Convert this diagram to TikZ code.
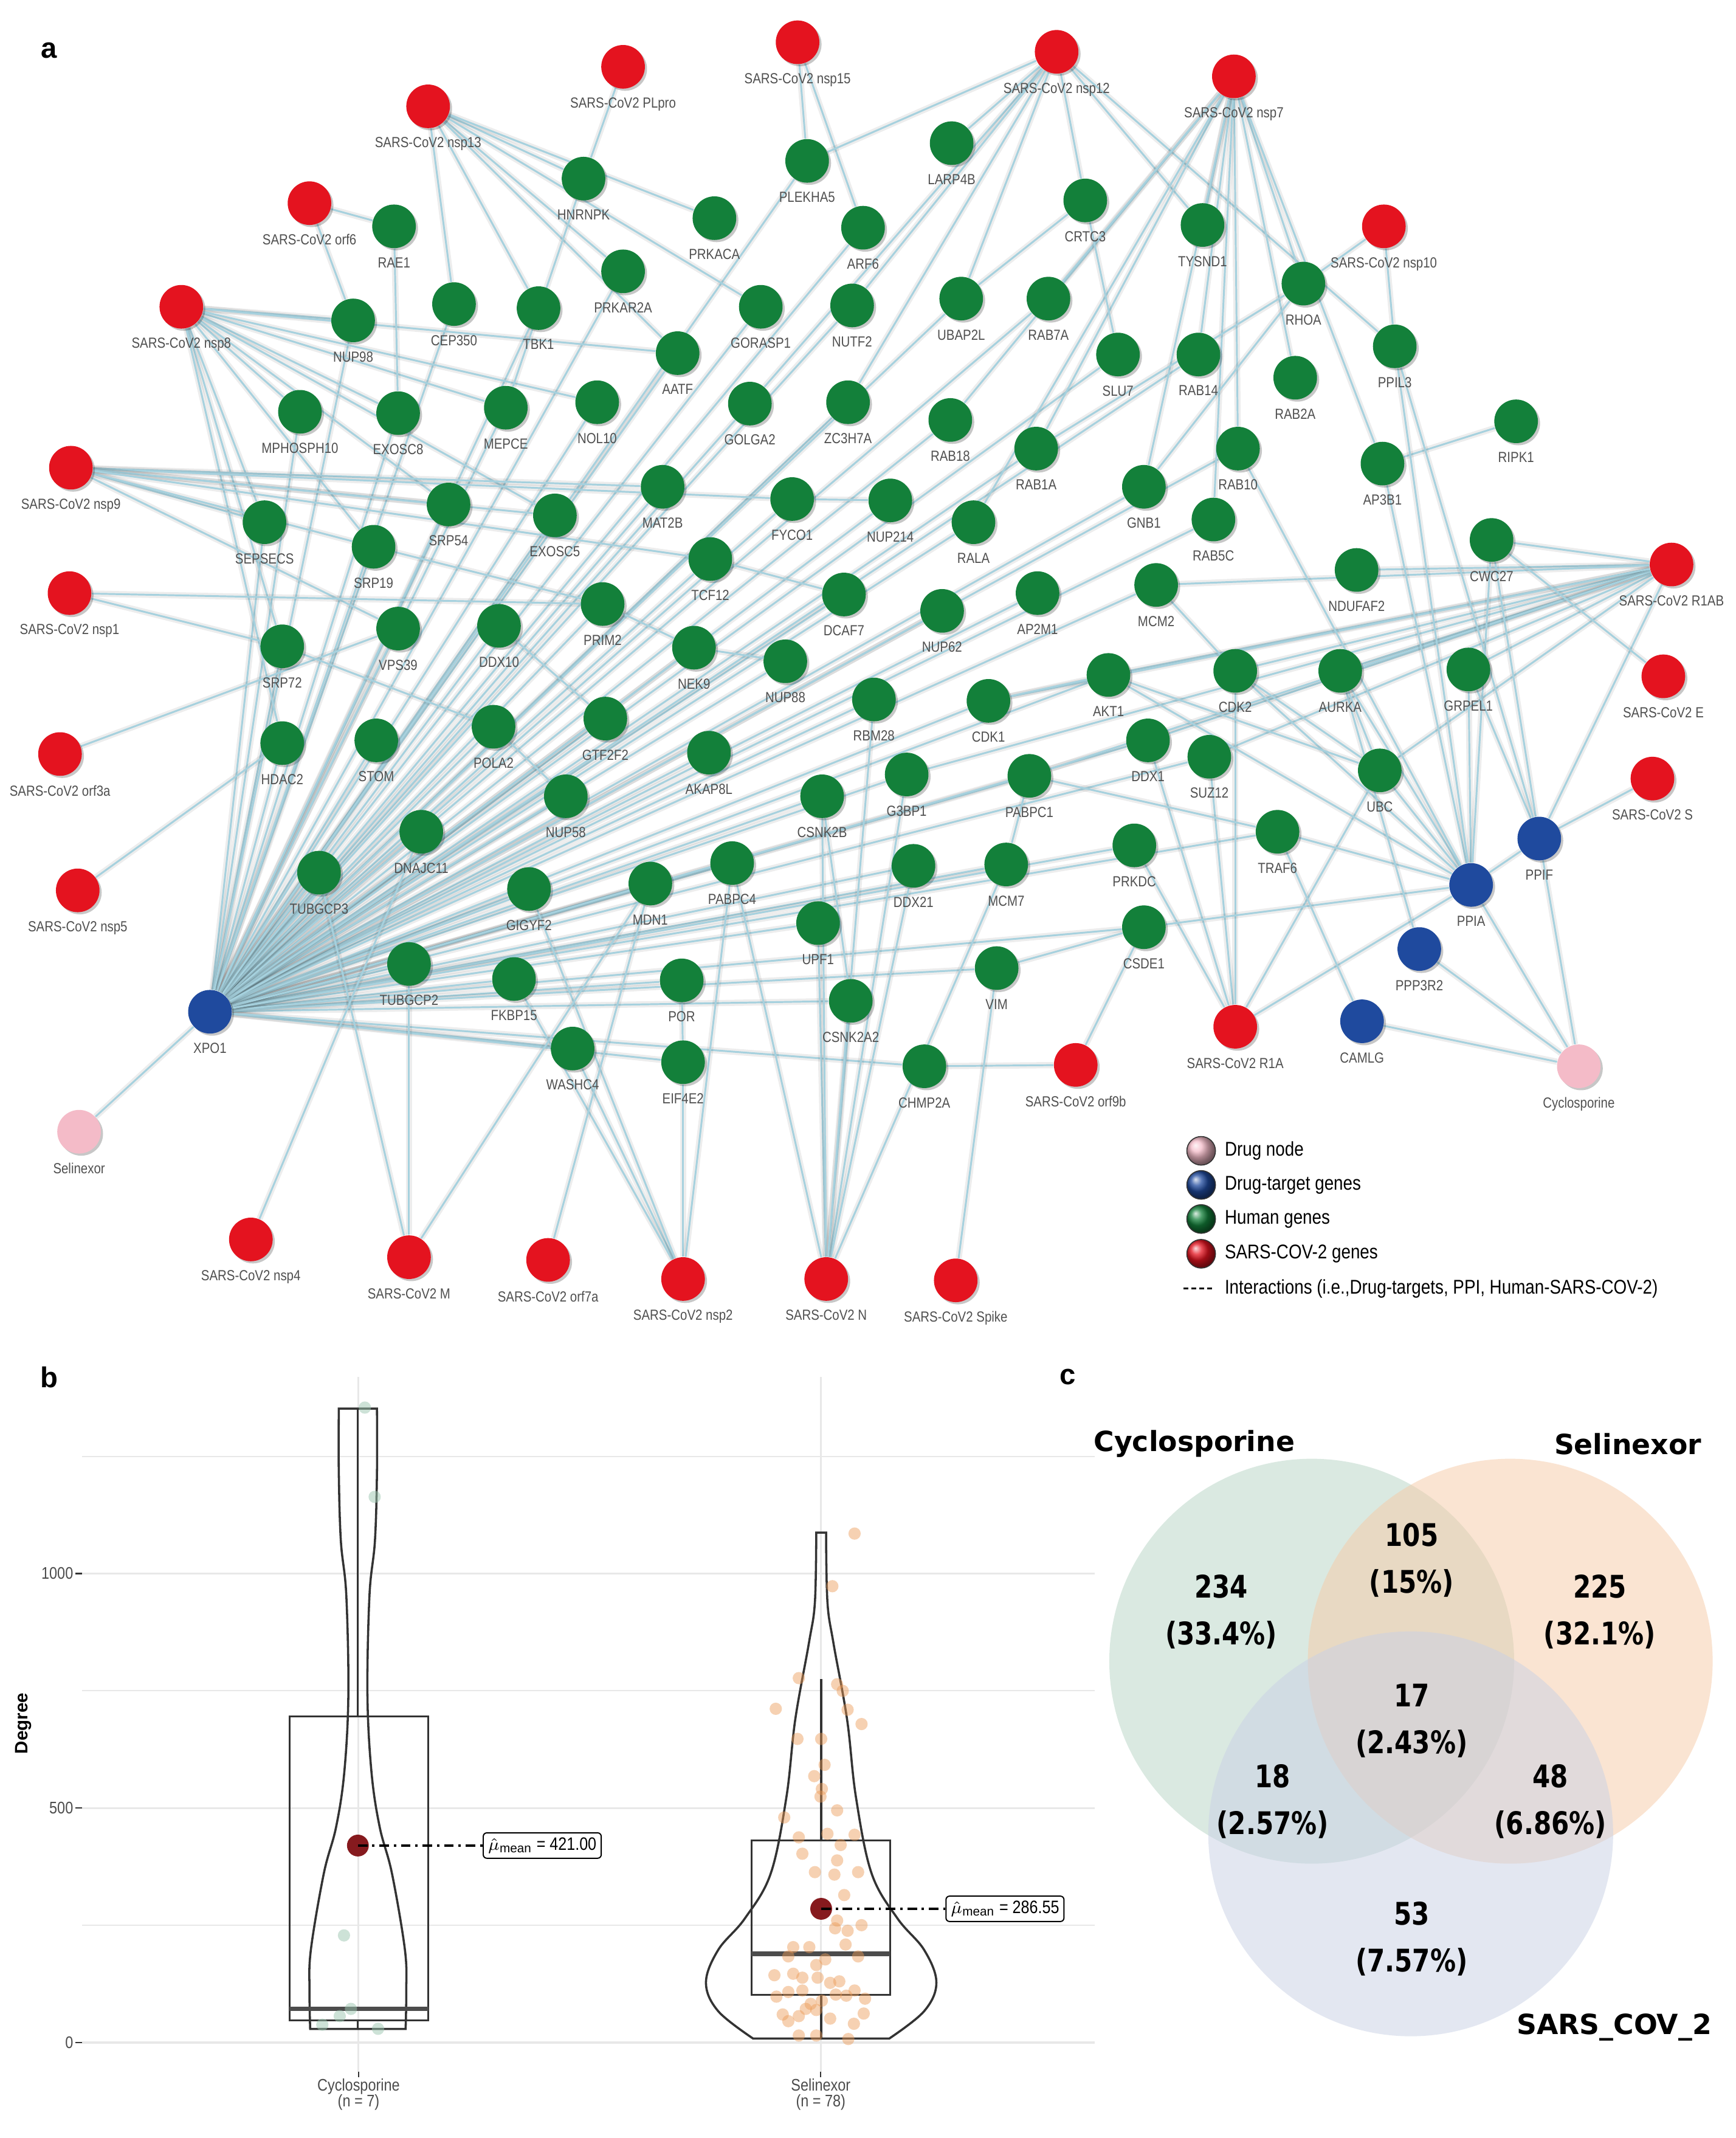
\documentclass[tikz,border=0pt]{standalone}
\usepackage{fontspec}
\setmainfont{Liberation Sans}
\newfontfamily\narrowfont[FakeStretch=0.85]{Liberation Sans}
\newfontfamily\vennfont{DejaVu Sans}
\newfontfamily\vennnumfont[FakeStretch=0.82]{DejaVu Sans}
\usetikzlibrary{backgrounds,shadows}

\definecolor{sarsred}{HTML}{E4131F}
\definecolor{humangreen}{HTML}{13803A}
\definecolor{targetblue}{HTML}{1F4A9E}
\definecolor{drugpink}{HTML}{F4BBC8}
\definecolor{edgeblue}{HTML}{A6D1DE}
\definecolor{labelgray}{HTML}{505050}
\definecolor{meanred}{HTML}{861A1E}
\definecolor{jitorange}{HTML}{EC9A55}
\definecolor{jitgreen}{HTML}{9CC7B0}
\definecolor{cyclofill}{HTML}{B7D5C5}
\definecolor{selifill}{HTML}{F7CBA7}
\definecolor{sarsfill}{HTML}{C9D1E5}

\tikzset{
  gene/.style={circle, minimum size=0.64cm, inner sep=0pt,
    drop shadow={shadow xshift=0.9pt, shadow yshift=-0.9pt, fill=black, opacity=0.22}},
  sars/.style={gene, fill=sarsred},
  human/.style={gene, fill=humangreen},
  target/.style={gene, fill=targetblue},
  drug/.style={gene, fill=drugpink},
  edge/.style={draw=edgeblue, line width=0.75pt,
    preaction={draw=black, opacity=0.07, line width=2.6pt}},
  legendball/.style={circle, minimum size=0.42cm, inner sep=0pt, draw=black!80, line width=0.4pt},
  legendtext/.style={anchor=west, inner sep=0pt, font=\narrowfont\fontsize{8.3}{9}\selectfont},
  panel/.style={font=\bfseries\fontsize{12}{14}\selectfont, inner sep=0pt},
  gridmajor/.style={draw=black!9, line width=0.8pt},
  gridminor/.style={draw=black!9, line width=0.5pt},
  axistick/.style={draw=black!80, line width=0.6pt},
  ticklabel/.style={anchor=east, inner sep=0pt, text=black!70, font=\narrowfont\fontsize{7}{8}\selectfont},
  violin/.style={draw=black!80, line width=0.9pt},
  boxplot/.style={draw=black!80, line width=0.8pt},
  median/.style={draw=black!70, line width=1.8pt},
  meanline/.style={draw=black, line width=0.9pt, dash pattern=on 4pt off 2pt on 1pt off 2pt},
  meanbox/.style={draw=black, rounded corners=1.5pt, line width=0.5pt, anchor=west, inner sep=2pt,
    font=\narrowfont\fontsize{7.5}{8}\selectfont},
  vennnum/.style={align=center, font=\vennnumfont\bfseries\fontsize{13}{19.6}\selectfont},
  venntitle/.style={font=\vennfont\bfseries\fontsize{11.6}{13}\selectfont, inner sep=0pt},
}

\begin{document}
\begin{tikzpicture}[x=0.02cm, y=-0.02cm,
  every label/.style={font=\narrowfont\fontsize{6.1}{7}\selectfont, text=labelgray,
    inner sep=0.5pt, yshift=-3pt}]
\useasboundingbox (0,0) rectangle (1273,1568);

% ---------------- a: network
\node[panel] (pa) at (36,37) {a};

% SARS-CoV-2 proteins
\node[sars,label=below:SARS-CoV2 nsp15] (nsp15) at (585,31) {};
\node[sars,label=below:SARS-CoV2 PLpro] (PLpro) at (457,49) {};
\node[sars,label=below:SARS-CoV2 nsp13] (nsp13) at (314,78) {};
\node[sars,label=below:SARS-CoV2 nsp12] (nsp12) at (775,38) {};
\node[sars,label=below:SARS-CoV2 nsp7] (nsp7) at (905,56) {};
\node[sars,label=below:SARS-CoV2 orf6] (orf6) at (227,149) {};
\node[sars,label=below:SARS-CoV2 nsp10] (nsp10) at (1015,166) {};
\node[sars,label=below:SARS-CoV2 nsp8] (nsp8) at (133,225) {};
\node[sars,label=below:SARS-CoV2 nsp9] (nsp9) at (52,343) {};
\node[sars,label=below:SARS-CoV2 nsp1] (nsp1) at (51,435) {};
\node[sars,label=below:SARS-CoV2 orf3a] (orf3a) at (44,553) {};
\node[sars,label=below:SARS-CoV2 nsp5] (nsp5) at (57,653) {};
\node[sars,label=below:SARS-CoV2 R1AB] (R1AB) at (1226,414) {};
\node[sars,label=below:SARS-CoV2 E] (E) at (1220,496) {};
\node[sars,label=below:SARS-CoV2 S] (S) at (1212,571) {};
\node[sars,label=below:SARS-CoV2 nsp4] (nsp4) at (184,909) {};
\node[sars,label=below:SARS-CoV2 M] (M) at (300,922) {};
\node[sars,label=below:SARS-CoV2 orf7a] (orf7a) at (402,924) {};
\node[sars,label=below:SARS-CoV2 nsp2] (nsp2) at (501,938) {};
\node[sars,label=below:SARS-CoV2 N] (N) at (606,938) {};
\node[sars,label=below:SARS-CoV2 Spike] (Spike) at (701,939) {};
\node[sars,label=below:SARS-CoV2 orf9b] (orf9b) at (789,781) {};
\node[sars,label=below:SARS-CoV2 R1A] (R1A) at (906,753) {};

% drugs and their targets
\node[drug,label=below:Selinexor] (Selinexor) at (58,830) {};
\node[drug,label=below:Cyclosporine] (Cyclosporine) at (1158,782) {};
\node[target,label=below:XPO1] (XPO1) at (154,742) {};
\node[target,label=below:PPIA] (PPIA) at (1079,649) {};
\node[target,label=below:PPIF] (PPIF) at (1129,615) {};
\node[target,label=below:PPP3R2] (PPP3R2) at (1041,696) {};
\node[target,label=below:CAMLG] (CAMLG) at (999,749) {};

% human genes
\foreach \g/\x/\y in {RAE1/289/166, HNRNPK/428/131, PRKACA/524/160, PLEKHA5/592/118,
  LARP4B/698/105, ARF6/633/167, CRTC3/796/147, TYSND1/882/165, RHOA/956/208,
  PPIL3/1023/254, RIPK1/1112/309, CEP350/333/223, TBK1/395/226, NUP98/259/235,
  PRKAR2A/457/199, GORASP1/558/225, NUTF2/625/224, UBAP2L/705/219, RAB7A/769/219,
  AATF/497/259, SLU7/820/260, RAB14/879/260, RAB2A/950/277, MPHOSPH10/220/302,
  EXOSC8/292/303, MEPCE/371/299, NOL10/438/295, GOLGA2/550/296, ZC3H7A/622/295,
  RAB18/697/308, RAB1A/760/329, RAB10/908/329, AP3B1/1014/340, GNB1/839/357,
  RAB5C/890/381, MAT2B/486/357, FYCO1/581/366, NUP214/653/367, RALA/714/383,
  SRP54/329/370, EXOSC5/407/378, SEPSECS/194/383, SRP19/274/401, TCF12/521/410,
  CWC27/1094/396, NDUFAF2/995/418, MCM2/848/429, AP2M1/761/435, DCAF7/619/436,
  NUP62/691/448, PRIM2/442/443, DDX10/366/459, VPS39/292/461, SRP72/207/474,
  NEK9/509/475, NUP88/576/485, AKT1/813/495, CDK2/906/492, AURKA/983/492,
  GRPEL1/1077/491, RBM28/641/513, CDK1/725/514, POLA2/362/533, GTF2F2/444/527,
  HDAC2/207/545, STOM/276/543, AKAP8L/520/552, DDX1/842/543, SUZ12/887/555,
  UBC/1012/565, NUP58/415/584, CSNK2B/603/584, G3BP1/665/568, PABPC1/755/569,
  DNAJC11/309/610, TRAF6/937/610, PRKDC/832/620, TUBGCP3/234/640, GIGYF2/388/652,
  MDN1/477/648, PABPC4/537/633, DDX21/670/635, MCM7/738/634, UPF1/600/677,
  CSDE1/839/680, TUBGCP2/300/707, FKBP15/377/718, POR/500/719, VIM/731/710,
  CSNK2A2/624/734, WASHC4/420/769, EIF4E2/501/779, CHMP2A/678/782}
  \node[human,label=below:\g] (\g) at (\x,\y) {};

\begin{scope}[on background layer]
\fill[white] (0,0) rectangle (1273,1568);
% XPO1 fan
\foreach \g in {SEPSECS, SRP72, HDAC2, STOM, TUBGCP3, DNAJC11, TUBGCP2, GIGYF2, MDN1,
  PABPC4, FKBP15, POR, WASHC4, EIF4E2, UPF1, CSNK2A2, CHMP2A, VIM, CSDE1, DDX21, MCM7,
  PRKDC, G3BP1, PABPC1, CSNK2B, NUP58, POLA2, AKAP8L, GTF2F2, DDX10, VPS39, PRIM2, NEK9,
  NUP88, RBM28, CDK1, AKT1, DDX1, SUZ12, TRAF6, NUP62, DCAF7, TCF12, AP2M1, MCM2, RALA,
  NUP214, FYCO1, MAT2B, SRP54, SRP19, EXOSC5, EXOSC8, MPHOSPH10, MEPCE, NOL10, GOLGA2,
  ZC3H7A, RAB18, RAB1A, GNB1, RAB5C, AATF, NUTF2, GORASP1, UBAP2L, RAB7A, PRKAR2A, TBK1,
  CEP350, NUP98, ARF6, PLEKHA5, SLU7, RAB14, RAB10}
  \draw[edge] (XPO1) -- (\g);
% other interactions
\foreach \a/\b in {nsp13/HNRNPK, nsp13/PRKACA, nsp13/CEP350, nsp13/TBK1, nsp13/PRKAR2A,
  nsp13/GORASP1, nsp13/AATF, PLpro/HNRNPK, nsp15/PLEKHA5, nsp15/ARF6, orf6/RAE1, orf6/NUP98,
  nsp12/PLEKHA5, nsp12/LARP4B, nsp12/UBAP2L, nsp12/CRTC3, nsp12/ZC3H7A, nsp12/GOLGA2,
  nsp12/TYSND1, nsp12/PPIL3, nsp12/NUTF2,
  nsp7/TYSND1, nsp7/RAB14, nsp7/RAB2A, nsp7/RAB10, nsp7/RHOA, nsp7/GNB1, nsp7/RAB5C,
  nsp7/RAB1A, nsp7/RAB18, nsp7/RAB7A, nsp7/AP3B1, nsp7/RALA,
  nsp10/RHOA, nsp10/PPIL3, CRTC3/SLU7, CRTC3/UBAP2L, RHOA/GNB1, RHOA/RAB1A, RIPK1/AP3B1,
  nsp8/NUP98, nsp8/AATF, nsp8/MPHOSPH10, nsp8/EXOSC8, nsp8/MEPCE, nsp8/NOL10, nsp8/SEPSECS,
  nsp8/SRP54, nsp8/SRP19, nsp8/SRP72, nsp8/EXOSC5, nsp8/HDAC2,
  nsp9/MAT2B, nsp9/FYCO1, nsp9/SEPSECS, nsp9/SRP54, nsp9/EXOSC5, nsp9/SRP19, nsp9/VPS39,
  nsp9/TCF12, nsp1/PRIM2, nsp1/SRP72, orf3a/VPS39, nsp5/HDAC2,
  RAE1/EXOSC8, HNRNPK/MEPCE, TCF12/DCAF7, SRP19/PRIM2, PRIM2/NEK9, NEK9/NUP88,
  SRP72/POLA2, POLA2/NUP58, DDX10/GTF2F2, FYCO1/NUP214,
  R1AB/NDUFAF2, R1AB/MCM2, R1AB/CWC27, R1AB/AKT1, R1AB/CDK2, R1AB/AURKA, R1AB/GRPEL1,
  R1AB/UBC, R1AB/DDX1, R1AB/SUZ12, R1AB/PPIF, R1AB/G3BP1, R1AB/PABPC1, R1AB/CDK1,
  E/CWC27, S/PPIF, R1A/PRKDC, R1A/SUZ12, R1A/DDX1, R1A/UBC, R1A/PPIA, R1A/CDK2,
  orf9b/CSDE1, orf9b/CHMP2A, Spike/VIM,
  N/UPF1, N/CSNK2A2, N/PABPC4, N/CSNK2B, N/G3BP1, N/DDX21, N/MCM7, N/RBM28,
  nsp2/EIF4E2, nsp2/WASHC4, nsp2/FKBP15, nsp2/GIGYF2, nsp2/PABPC4, POR/EIF4E2,
  orf7a/MDN1, M/TUBGCP2, M/TUBGCP3, M/MDN1, nsp4/DNAJC11, Selinexor/XPO1,
  PPIA/Cyclosporine, PPIA/PPIF, PPIA/UBC, PPIA/GRPEL1, PPIA/CWC27, PPIA/AURKA, PPIA/CDK2,
  PPIA/TRAF6, PPIA/CSDE1, PPIA/AP3B1, PPIA/AKT1, PPIA/RAB10,
  PPIF/Cyclosporine, PPIF/GRPEL1, PPIF/CWC27, PPIF/PPIL3, PPIL3/PPIA,
  PPP3R2/Cyclosporine, PPP3R2/AURKA, CAMLG/Cyclosporine, CAMLG/TRAF6,
  AKT1/CDK1, AKT1/UBC, MCM2/CDK2, CDK2/UBC, AURKA/UBC, PABPC1/TRAF6, PABPC1/MCM7,
  CSDE1/VIM, CSNK2B/CSNK2A2}
  \draw[edge] (\a) -- (\b);
\end{scope}

% legend
\node[legendball, ball color=drugpink] (lgdrug) at (881,844) {};
\node[legendball, ball color=targetblue] (lgtarget) at (881,869) {};
\node[legendball, ball color=humangreen] (lghuman) at (881,894) {};
\node[legendball, ball color=sarsred] (lgsars) at (881,919.5) {};
\node[legendtext] (lgdrugtxt) at (898,844) {Drug node};
\node[legendtext] (lgtargettxt) at (898,869) {Drug-target genes};
\node[legendtext] (lghumantxt) at (898,894) {Human genes};
\node[legendtext] (lgsarstxt) at (898,919.5) {SARS-COV-2 genes};
\coordinate (lgdashA) at (868,945);
\coordinate (lgdashB) at (891,945);
\draw[line width=0.8pt, dash pattern=on 2pt off 1.3pt] (lgdashA) -- (lgdashB);
\node[legendtext] (lgedgetxt) at (898,945) {Interactions (i.e.,Drug-targets, PPI, Human-SARS-COV-2)};

% ---------------- b: degree distribution
\node[panel] (pb) at (36,1010) {b};
\foreach \y in {1068,1240,1412} \draw[gridminor] (60,\y) -- (803,\y);
\foreach \y in {1154,1326,1498} \draw[gridmajor] (60,\y) -- (803,\y);
\foreach \x in {263,602} {
  \draw[gridmajor] (\x,1010) -- (\x,1519.5);
  \draw[axistick] (\x,1519.5) -- (\x,1523.5);
}
\foreach \y/\v in {1154/1000,1326/500,1498/0} {
  \draw[axistick] (55.5,\y) -- (60,\y);
  \node[ticklabel] (tick\v) at (54,\y) {\v};
}
\node[rotate=90, font=\bfseries\fontsize{7.5}{9}\selectfont, inner sep=0pt] (ylab) at (17,1264) {Degree};
\node[align=center, text=black!70, font=\narrowfont\fontsize{7}{6.8}\selectfont] (xcyclo) at (263,1536) {Cyclosporine\\(n = 7)};
\node[align=center, text=black!70, font=\narrowfont\fontsize{7}{6.8}\selectfont] (xseli) at (602,1536) {Selinexor\\(n = 78)};

% Cyclosporine
\draw[violin] plot[smooth, tension=0.6] coordinates {(248.5,1033) (248.5,1080) (250,1130)
  (254,1170) (255.5,1243) (252.5,1300) (246.5,1340) (237.5,1374) (228,1430) (227,1460) (227.5,1488)}
  -- plot[smooth, tension=0.6] coordinates {(297.5,1488) (298,1460) (297,1430) (287.5,1374)
  (278.5,1340) (272.5,1300) (269.5,1243) (271,1170) (275,1130) (276.5,1080) (276.5,1033)} -- cycle;
\draw[boxplot] (212.4,1258.8) rectangle (314.2,1481.6);
\draw[boxplot] (262.5,1033) -- (262.5,1258.8);
\draw[boxplot] (262.5,1481.6) -- (262.5,1488);
\draw[median] (212.4,1473.3) -- (314.2,1473.3);
\foreach \x/\y in {267.6/1032.3, 274.8/1097.8, 252.3/1419.4, 257.4/1473.3, 249.2/1478.6,
  236.4/1484.9, 277.3/1487.9}
  \fill[jitgreen, opacity=0.5] (\x,\y) circle (0.09cm);
\fill[meanred] (262.5,1353.5) circle (0.16cm);
\node[meanbox] (meancyclo) at (354,1353.5) {$\hat{\mu}_{\mathrm{mean}}$ = 421.00};
\draw[meanline] (262.5,1353.5) -- (meancyclo.west);

% Selinexor
\draw[violin] plot[smooth, tension=0.6] coordinates {(598.7,1124) (597.7,1175) (593.3,1205)
  (583.3,1261) (576.8,1318) (565.3,1374) (546.3,1407) (526.8,1430) (517.8,1454) (526.8,1475) (552.3,1495)}
  -- plot[smooth, tension=0.6] coordinates {(652.3,1495) (677.8,1475) (686.8,1454) (677.8,1430)
  (658.3,1407) (639.3,1374) (627.8,1318) (621.3,1261) (611.3,1205) (606.9,1175) (605.9,1124)} -- cycle;
\draw[boxplot] (551.1,1349.8) rectangle (652.9,1462.8);
\draw[boxplot] (602.3,1231.4) -- (602.3,1349.8);
\draw[boxplot] (602.3,1462.8) -- (602.3,1495.4);
\draw[median] (551.1,1432.9) -- (652.9,1432.9);
\foreach \x/\y in {626.8/1124.7, 610.5/1163.3, 585.9/1230.7, 614.0/1235.2, 618.1/1240.1,
  569.0/1253.2, 621.7/1253.9, 631.9/1264.4, 584.9/1275.3, 602.3/1275.3, 604.8/1294.3,
  597.2/1302.6, 602.8/1312.0, 601.8/1317.6, 614.0/1327.7, 575.2/1332.9, 585.9/1347.5,
  606.9/1344.9, 626.8/1345.6, 616.6/1353.1, 588.5/1359.5, 614.0/1364.4, 597.7/1373.0,
  612.0/1374.8, 629.4/1373.0, 619.2/1389.8, 614.0/1408.5, 631.9/1411.9, 612.5/1414.2,
  621.7/1416.0, 581.8/1428.0, 593.6/1428.0, 578.2/1434.8, 605.3/1437.0, 620.2/1426.1,
  629.4/1434.8, 598.7/1441.1, 568.0/1448.6, 581.8/1447.5, 588.5/1450.4, 599.7/1450.4,
  615.6/1453.1, 608.9/1454.2, 626.8/1459.8, 569.5/1464.3, 578.2/1460.9, 588.5/1459.8,
  613.0/1462.8, 620.7/1463.6, 634.5/1465.8, 594.6/1469.6, 591.0/1473.3, 598.7/1474.1,
  574.1/1477.4, 585.9/1478.6, 608.9/1480.4, 633.5/1476.7, 626.3/1484.2, 585.9/1492.8,
  598.7/1492.8, 622.2/1495.4, 578.2/1482.3, 602.8/1467.3}
  \fill[jitorange, opacity=0.45] (\x,\y) circle (0.09cm);
\fill[meanred] (602.3,1399.9) circle (0.16cm);
\node[meanbox] (meanseli) at (693.4,1399.9) {$\hat{\mu}_{\mathrm{mean}}$ = 286.55};
\draw[meanline] (602.3,1399.9) -- (meanseli.west);

% ---------------- c: Venn diagram
\node[panel] (pc) at (783,1010) {c};
\fill[cyclofill, fill opacity=0.5] (962.1,1218.3) circle (2.97cm);
\fill[selifill, fill opacity=0.5] (1107.7,1218.3) circle (2.97cm);
\fill[sarsfill, fill opacity=0.5] (1034.7,1344.9) circle (2.97cm);
\node[venntitle] (tcyclo) at (876,1059) {Cyclosporine};
\node[venntitle] (tseli) at (1194,1059) {Selinexor};
\node[venntitle] (tsars) at (1184,1487) {SARS\_COV\_2};
\node[vennnum] (vcyclo) at (895.7,1182) {234\\(33.4\%)};
\node[vennnum] (vcs) at (1035.4,1144) {105\\(15\%)};
\node[vennnum] (vseli) at (1173.4,1182) {225\\(32.1\%)};
\node[vennnum] (vall) at (1035.4,1262) {17\\(2.43\%)};
\node[vennnum] (vcsars) at (933.5,1321) {18\\(2.57\%)};
\node[vennnum] (vssars) at (1137.2,1321) {48\\(6.86\%)};
\node[vennnum] (vsars) at (1035.4,1422) {53\\(7.57\%)};
\end{tikzpicture}
\end{document}
